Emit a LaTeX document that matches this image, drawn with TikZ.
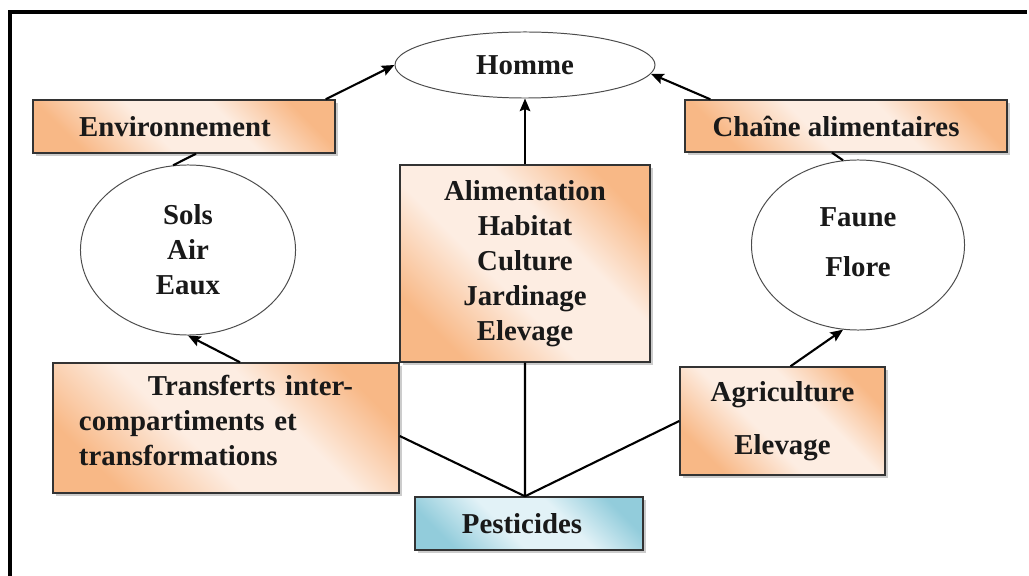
\documentclass[tikz,border=0pt]{standalone}
\usepackage{fontspec}
\setmainfont{Liberation Serif}
\usetikzlibrary{arrows.meta,shapes.geometric,shadows}

\definecolor{orgdark}{HTML}{F8B886}
\definecolor{orglight}{HTML}{FDEDE2}
\definecolor{bluedark}{HTML}{92CCDB}
\definecolor{bluelight}{HTML}{E2F2F7}

\pgfdeclarehorizontalshading{orangegrad}{100bp}{color(0bp)=(orgdark); color(25bp)=(orgdark); color(43bp)=(orglight); color(60bp)=(orglight); color(76bp)=(orgdark); color(100bp)=(orgdark)}
\pgfdeclarehorizontalshading{bluegrad}{100bp}{color(0bp)=(bluedark); color(25bp)=(bluedark); color(43bp)=(bluelight); color(60bp)=(bluelight); color(76bp)=(bluedark); color(100bp)=(bluedark)}

\begin{document}
\begin{tikzpicture}[x=0.025cm,y=-0.025cm,->,>={Stealth[length=9pt,width=7.5pt,inset=1.5pt]},line width=1.5pt,
  every node/.style={font=\fontsize{20.5}{25}\selectfont\bfseries,text=black!90},
  orangebox/.style={draw=black!80,line width=1pt,shading=orangegrad,shading angle=45,inner sep=0pt,
    drop shadow={shadow xshift=0.07cm,shadow yshift=-0.07cm,fill=black!40}},
  bluebox/.style={orangebox,shading=bluegrad},
  oval/.style={ellipse,draw=black!70,line width=0.7pt,fill=white,inner sep=0pt,align=center}]

  \useasboundingbox (0,0) rectangle (1029,576);
  \draw[-,line width=2.2pt] (10,576) -- (10,12) -- (1027,12);

  \node[oval,minimum width=6.5cm,minimum height=1.65cm]  (homme)  at (525,65)    {Homme};
  \node[orangebox,minimum width=7.55cm,minimum height=1.325cm] (env) at (184,126.5) {Environnement\hspace*{0.45cm}};
  \node[orangebox,minimum width=8.05cm,minimum height=1.3cm] (chaine) at (846,126) {Chaîne alimentaires\hspace*{0.5cm}};
  \node[oval,minimum width=5.375cm,minimum height=4.25cm] (sols)  at (188,250)   {Sols\\Air\\Eaux};
  \node[oval,minimum width=5.325cm,minimum height=4.25cm,text depth=0.15cm] (faune) at (858,245) {Faune\\[11pt]Flore};
  \node[orangebox,minimum width=6.25cm,minimum height=4.925cm,align=center] (activ) at (525,263.5)
    {Alimentation\\Habitat\\Culture\\Jardinage\\Elevage};
  \node[orangebox,minimum width=8.65cm,minimum height=3.25cm,text width=7.35cm,align=left,text depth=61pt] (transf) at (226,428)
    {\hspace*{1.725cm}Transferts inter-\\compartiments et\\transformations};
  \node[orangebox,minimum width=5.125cm,minimum height=2.7cm,align=center] (agri) at (782.5,421)
    {Agriculture\\[12.6pt]Elevage};
  \node[bluebox,minimum width=5.7cm,minimum height=1.325cm] (pest) at (529,523.5) {Pesticides\hspace*{0.35cm}};

  \path ([xshift=-0.25cm]env.north east) edge (homme.west)
        ([xshift=0.65cm]chaine.north west) edge (homme.-4)
        (activ) edge (homme)
        ([xshift=0.35cm]transf.north) edge (sols.south)
        ([xshift=0.2cm]agri.north) edge (faune.-100)
        ([xshift=0.3cm]env.south) edge[-] (sols.100)
        ([xshift=-0.35cm]chaine.south) edge[-] (faune.100)
        ([xshift=-0.1cm]pest.north) edge[-] (activ.south)
                                    edge[-] ([yshift=-0.2cm]transf.east)
                                    edge[-] (agri.west);
\end{tikzpicture}
\end{document}
